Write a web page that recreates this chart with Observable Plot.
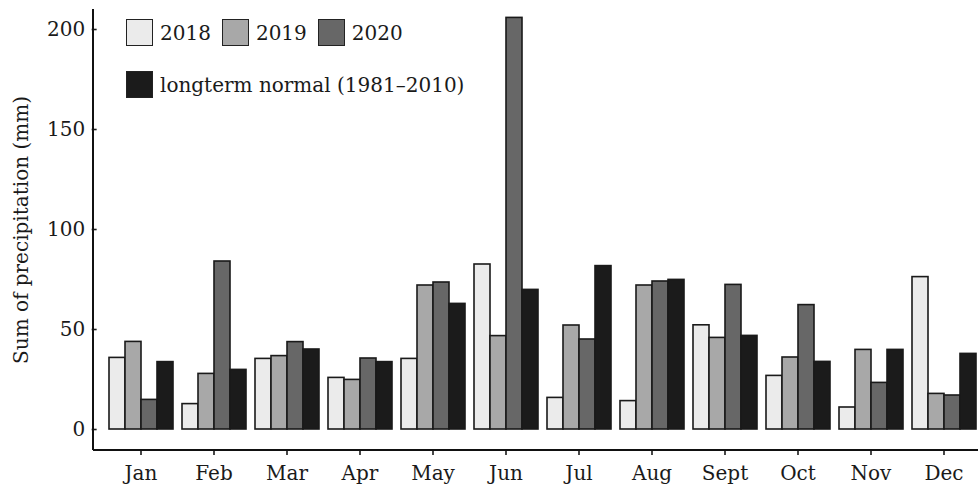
<!DOCTYPE html>
<html><head><meta charset="utf-8">
<script src="https://cdn.jsdelivr.net/npm/d3@7"></script>
<script src="https://cdn.jsdelivr.net/npm/@observablehq/plot@0.6"></script>
<style>
body{margin:0;background:#fff;font-family:"DejaVu Serif",serif;}
#wrap{position:relative;width:978px;height:486px;overflow:hidden}
#legend{position:absolute;left:126px;top:19px;width:390px;display:flex;flex-wrap:wrap;column-gap:11px;row-gap:25px;font-size:20px;color:#1a1a1a}
.item{display:flex;align-items:center;gap:7px;height:27px}
.sw{width:25px;height:25px;border:1px solid #222;box-sizing:content-box}
</style></head><body><div id="wrap"><div id="legend"></div></div>
<script>
const months = ["Jan","Feb","Mar","Apr","May","Jun","Jul","Aug","Sept","Oct","Nov","Dec"];
const series = ["2018","2019","2020","longterm normal (1981–2010)"];
const v2018   = [35.8, 12.7, 35.3, 25.8, 35.3, 82.5, 15.8, 14.2, 52.1, 26.8, 11.0, 76.2];
const v2019   = [43.8, 27.8, 36.7, 24.8, 72.0, 46.7, 52.0, 72.0, 45.8, 36.0, 39.8, 17.8];
const v2020   = [14.8, 84.0, 43.7, 35.5, 73.5, 205.8, 45.0, 74.0, 72.3, 62.2, 23.3, 17.0];
const vNormal = [33.7, 29.8, 40.0, 33.7, 62.8, 69.8, 81.7, 74.8, 46.8, 33.8, 39.8, 37.8];
const colors  = ["#ebebeb", "#a8a8a8", "#676767", "#1b1b1b"];
const yTicks  = [0, 50, 100, 150, 200];

const cols = [v2018, v2019, v2020, vNormal];
const data = months.flatMap((m, i) => series.map((s, j) => ({month: m, series: s, value: cols[j][i]})));

const W = 978, H = 486, mL = 93, mR = -12, mT = 9, mB = 36;
const fxPadOuter = 0.1;
// offset of the first facet from the left margin (to put the y axis on the panel edge)
const step = (W - mR - mL) / (months.length + 2 * fxPadOuter);
const firstOffset = fxPadOuter * step;

const plot = Plot.plot({
  width: W, height: H,
  marginLeft: mL, marginRight: mR, marginTop: mT, marginBottom: mB,
  style: {fontFamily: "DejaVu Serif", fontSize: "20px", color: "#1a1a1a", background: "white"},
  fx: {domain: months, paddingInner: 0, paddingOuter: fxPadOuter, label: null},
  x: {domain: series, paddingInner: 0, paddingOuter: 0.227, axis: null},
  y: {domain: [-10.5, 210]},
  color: {domain: series, range: colors},
  marks: [
    Plot.barY(data, {fx: "month", x: "series", y: "value", fill: "series", stroke: "#1a1a1a", strokeWidth: 1.6}),
    Plot.axisY({ticks: yTicks, tickSize: 5, tickPadding: 7, strokeWidth: 1.6, dx: -firstOffset,
      label: "Sum of precipitation (mm)", labelAnchor: "center", labelArrow: "none", labelOffset: 91}),
    Plot.axisFx({anchor: "bottom", tickSize: 5, tickPadding: 10, strokeWidth: 1.6, label: null})
  ]
});
document.getElementById("wrap").appendChild(plot);

// axis lines drawn along the scale ranges
const ys = plot.scale("y"), fxs = plot.scale("fx");
const svg = d3.select(plot);
const yBottom = Math.max(...ys.range), yTop = Math.min(...ys.range);
const xLeft = Math.min(...fxs.range), xRight = Math.max(...fxs.range);
svg.append("line").attr("x1", xLeft).attr("x2", xRight).attr("y1", yBottom).attr("y2", yBottom)
  .attr("stroke", "#111").attr("stroke-width", 2);
svg.append("line").attr("x1", xLeft).attr("x2", xLeft).attr("y1", yTop).attr("y2", yBottom)
  .attr("stroke", "#111").attr("stroke-width", 2);

const lg = document.getElementById("legend");
series.forEach((s, j) => {
  const it = document.createElement("div"); it.className = "item";
  const sw = document.createElement("div"); sw.className = "sw"; sw.style.background = colors[j];
  const tx = document.createElement("span"); tx.textContent = s;
  it.appendChild(sw); it.appendChild(tx); lg.appendChild(it);
});
</script></body></html>
